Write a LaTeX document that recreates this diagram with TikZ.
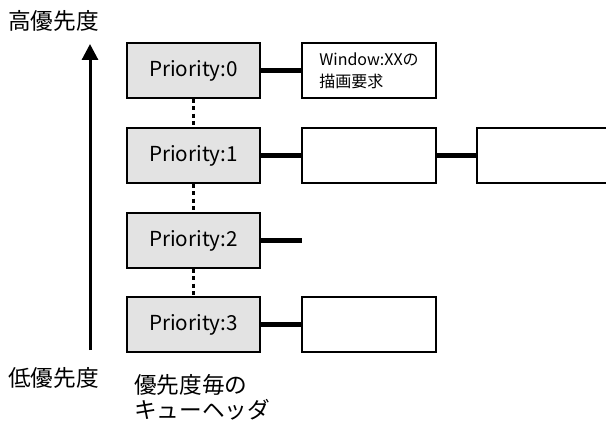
\documentclass[tikz,border=0pt]{standalone}
\usepackage{fontspec}
\setmainfont{Noto Sans CJK JP}
\usetikzlibrary{arrows.meta}
\tikzset{
  px/.style={x=0.75pt,y=-0.75pt},
  prio/.style={draw=black,line width=1.5pt,fill=gray!22,minimum width=133*0.75pt,minimum height=55*0.75pt,inner sep=0pt,font=\fontsize{15.5pt}{18pt}\selectfont},
  req/.style={draw=black,line width=1.5pt,fill=white,minimum width=134*0.75pt,minimum height=55*0.75pt,inner sep=0pt},
  conn/.style={line width=4pt},
  chain/.style={line width=2.5pt,dash pattern=on 3pt off 2.5pt},
  lbl/.style={font=\fontsize{17pt}{18.75pt}\selectfont,inner sep=0pt},
}
\begin{document}
\begin{tikzpicture}[px]
\useasboundingbox (0,0) rectangle (606,424);
\node[prio] (p0) at (193.5,70.5) {Priority:0};
\node[prio] (p1) at (193.5,155.5) {Priority:1};
\node[prio] (p2) at (193.5,240.5) {Priority:2};
\node[prio] (p3) at (193.5,324.5) {Priority:3};
\node[req,align=left,font=\fontsize{12pt}{16.5pt}\selectfont] (w0) at (369,70.5) {Window:XXの\\描画要求};
\node[req] (w1) at (369,155.5) {};
\node[req,minimum width=140*0.75pt] (w1b) at (547,155.5) {};
\node[req] (w3) at (369,324.5) {};
\coordinate (s2) at (302,240.5);
\draw[conn] (p0.east) -- (w0.west);
\draw[conn] (p1.east) -- (w1.west);
\draw[conn] (w1.east) -- (w1b.west);
\draw[conn] (p2.east) -- (s2);
\draw[conn] (p3.east) -- (w3.west);
\draw[chain] (p0.south) -- (p1.north);
\draw[chain] (p1.south) -- (p2.north);
\draw[chain] (p2.south) -- (p3.north);
\coordinate (alo) at (90,350);
\coordinate (ahi) at (90,44);
\draw[line width=2.25pt,-{Triangle[width=12pt,length=12pt]}] (alo) -- (ahi);
\node[lbl,anchor=west] (hi) at (8,21) {高優先度};
\node[lbl,anchor=west] (lo) at (8,378) {低優先度};
\node[lbl,anchor=north west,align=left] (hdr) at (134,374) {優先度毎の\\キューヘッダ};
\end{tikzpicture}
\end{document}
